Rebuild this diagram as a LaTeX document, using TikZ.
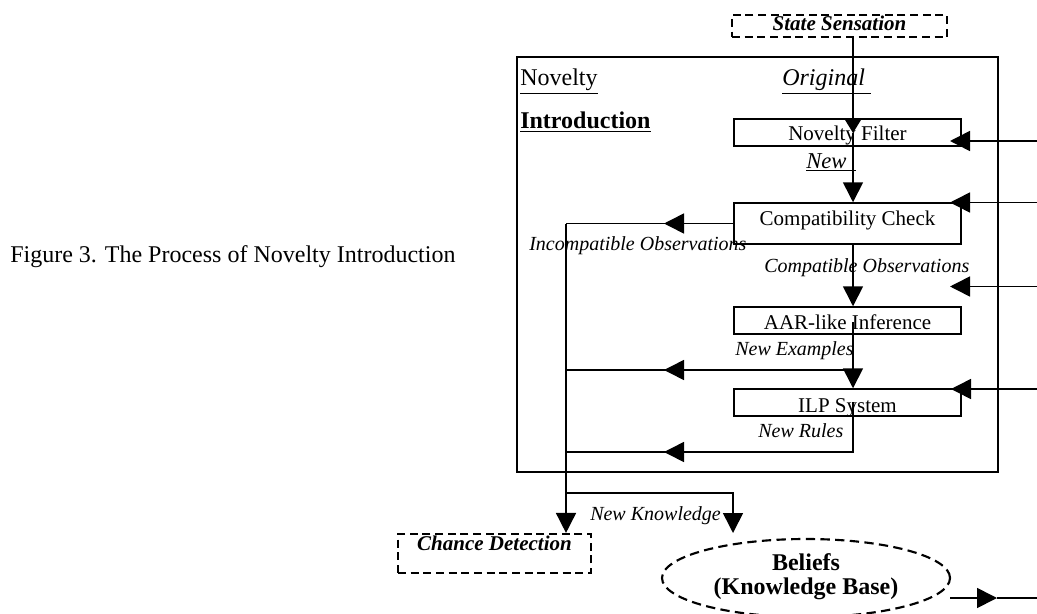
\documentclass[tikz,border=0pt]{standalone}
\usepackage{fontspec}
\setmainfont{Liberation Serif}
\usetikzlibrary{arrows.meta,shapes.geometric}
\begin{document}
\begin{tikzpicture}[x=0.75pt,y=-0.75pt,
  conn/.style={line width=1.2pt},
  arr/.style={conn,-{Triangle[length=15pt,width=15pt]}},
  sarr/.style={conn,-{Triangle[length=10.5pt,width=12.5pt]}},
  boxnode/.style={draw,line width=1.1pt,inner sep=0pt,minimum width=170.25pt,font=\fontsize{15.75}{18}\selectfont},
  dbox/.style={draw,dash pattern=on 6pt off 3.5pt,line width=1.6pt,inner sep=0pt,font=\bfseries\itshape\fontsize{15.75}{18}\selectfont},
  lbl/.style={anchor=base west,inner sep=0pt,font=\itshape\fontsize{15}{18}\selectfont},
  ttl/.style={anchor=base west,inner sep=0pt,font=\fontsize{18}{21}\selectfont},
  frame/.style={draw,line width=2pt}]
\useasboundingbox (0,0) rectangle (1037,613);

% caption
\node[ttl] (cap) at (10,262) {Figure 3. The Process of Novelty Introduction};

% outer frame
\draw[frame] (517,57) rectangle (998,472);
\node[ttl] (tnov) at (520,86) {\underline{Novelty}};
\node[ttl] (tintro) at (520,129) {\underline{\textbf{Introduction}}};
\node[ttl] (torig) at (782,86) {\underline{\textit{Original}\ }};
\node[ttl,font=\fontsize{17}{20}\selectfont] (tnew) at (806,168) {\underline{\textit{New}\ \,}};

% boxes
\node[dbox,minimum width=161.25pt,text height=12pt,text depth=4.5pt] (ss) at (839.5,26) {State Sensation};
\node[boxnode,text height=16.5pt,text depth=3.75pt] (nf) at (847.5,132.5) {Novelty Filter};
\node[boxnode,text height=16.5pt,text depth=14.25pt] (cc) at (847.5,223.5) {Compatibility Check};
\node[boxnode,text height=16.875pt,text depth=3.375pt] (aar) at (847.5,320.5) {AAR-like Inference};
\node[boxnode,text height=17.8pt,text depth=2.45pt] (ilp) at (847.5,402.5) {ILP System};
\node[dbox,minimum width=144.75pt,text height=12pt,text depth=17.25pt] (cd) at (494.5,553.5) {Chance Detection};
\node[ellipse,draw,dash pattern=on 7pt off 4pt,line width=1.6pt,inner sep=0pt,
      minimum width=216pt,minimum height=58.5pt,
      font=\bfseries\fontsize{18}{18}\selectfont] (kb) at (806,578)
      {\raisebox{6pt}[0pt][0pt]{\begin{tabular}[t]{@{}c@{}}Beliefs\\(Knowledge Base)\end{tabular}}};

% labels
\node[lbl] (linc) at (529,250) {Incompatible Observations};
\node[lbl] (lcomp) at (764,272) {Compatible Observations};
\node[lbl] (lex) at (735,355) {New Examples};
\node[lbl] (lrul) at (758,437) {New Rules};
\node[lbl] (lkn) at (590,520) {New Knowledge};

% helper coordinates
\coordinate (colx) at (853,0);
\coordinate (coll) at (566,0);
\coordinate (nfhit) at (853,133);
\coordinate (aarin) at (853,322);
\coordinate (ilpin) at (853,402);
\coordinate (incR) at (cc.west);
\coordinate (incL) at (566,223.5);
\coordinate (incM) at (664,223.5);
\coordinate (exR) at (853,370);
\coordinate (exL) at (566,370);
\coordinate (exM) at (664,370);
\coordinate (ruR) at (853,452);
\coordinate (ruL) at (566,452);
\coordinate (ruM) at (664,452);
\coordinate (knL) at (566,493);
\coordinate (knR) at (733,493);
\coordinate (knT) at (733,533);
\coordinate (outS) at (950,598);
\coordinate (outM) at (997,598);
\coordinate (outE) at (1037,598);
\coordinate (r1) at (1037,141);
\coordinate (t1) at (950,141);
\coordinate (r2) at (1037,202.5);
\coordinate (t2) at (950,202.5);
\coordinate (r3) at (1037,286.5);
\coordinate (t3) at (950,286.5);
\coordinate (r4) at (1037,389);
\coordinate (t4) at (951,389);

% main flow
\draw[sarr] (ss.south -| colx) -- (nfhit);
\draw[conn] (nfhit) -- (nf.south -| colx);
\draw[arr] (nf.south -| colx) -- (cc.north -| colx);
\draw[arr] (cc.south -| colx) -- (aar.north -| colx);
\draw[arr] (aarin) -- (ilp.north -| colx);

% incompatible
\draw[conn] (incR) -- (incL);
\draw[arr] (incR) -- (incM);
\draw[arr] (incL) -- (cd.north -| coll);

% new examples
\draw[conn] (exR) -- (exL);
\draw[arr] (exR) -- (exM);

% new rules
\draw[conn] (ilpin) -- (ruR) -- (ruL);
\draw[arr] (ruR) -- (ruM);

% new knowledge
\draw[arr] (knL) -- (knR) -- (knT);

% output
\draw[arr] (outS) -- (outM);
\draw[conn] (outM) -- (outE);

% incoming from right
\draw[arr] (r1) -- (t1);
\draw[arr] (r2) -- (t2);
\draw[arr] (r3) -- (t3);
\draw[arr] (r4) -- (t4);
\end{tikzpicture}
\end{document}
